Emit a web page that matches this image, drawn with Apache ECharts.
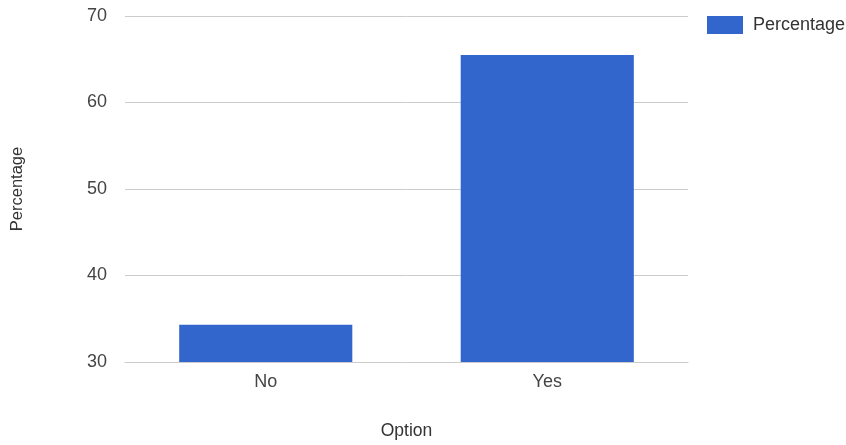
<!DOCTYPE html>
<html><head><meta charset="utf-8">
<script src="https://cdn.jsdelivr.net/npm/echarts@6/dist/echarts.min.js"></script>
<style>html,body{margin:0;padding:0;background:#fff}#c{width:846px;height:445px}</style>
</head><body><div id="c"></div>
<script>
const categories = ["No", "Yes"];
const percentage = [34.3, 65.5];
const seriesName = "Percentage";
const yTicks = {min: 30, max: 70, interval: 10};

const FONT = 'Arial, "Liberation Sans", sans-serif';
const chart = echarts.init(document.getElementById('c'));
chart.setOption({
  animation: false,
  textStyle: {fontFamily: FONT},
  legend: {
    left: 707, top: 16, itemWidth: 36, itemHeight: 18, itemGap: 8, padding: 0,
    textStyle: {fontSize: 18, color: '#333', fontFamily: FONT, padding: [0, 0, 0, 5]},
    data: [{name: seriesName, icon: 'rect'}]
  },
  grid: {left: 125, right: 158, top: 16, bottom: 81.5},
  xAxis: {
    type: 'category', data: categories,
    name: 'Option', nameLocation: 'middle', nameGap: 60,
    nameTextStyle: {fontSize: 17.5, color: '#333', fontFamily: FONT},
    axisLine: {show: true, lineStyle: {color: '#ccc'}},
    axisTick: {show: false},
    axisLabel: {fontSize: 18, color: '#444', margin: 11, fontFamily: FONT}
  },
  yAxis: {
    type: 'value', min: yTicks.min, max: yTicks.max, interval: yTicks.interval,
    name: 'Percentage', nameLocation: 'middle', nameGap: 99,
    nameTextStyle: {fontSize: 16.5, color: '#333', fontFamily: FONT},
    axisLine: {show: false}, axisTick: {show: false},
    axisLabel: {fontSize: 18, color: '#444', margin: 18, fontFamily: FONT},
    splitLine: {lineStyle: {color: '#ccc'}}
  },
  series: [{
    name: seriesName, type: 'bar', data: percentage,
    barWidth: '61.5%',
    itemStyle: {color: '#3366CC'}
  }]
});
</script></body></html>
